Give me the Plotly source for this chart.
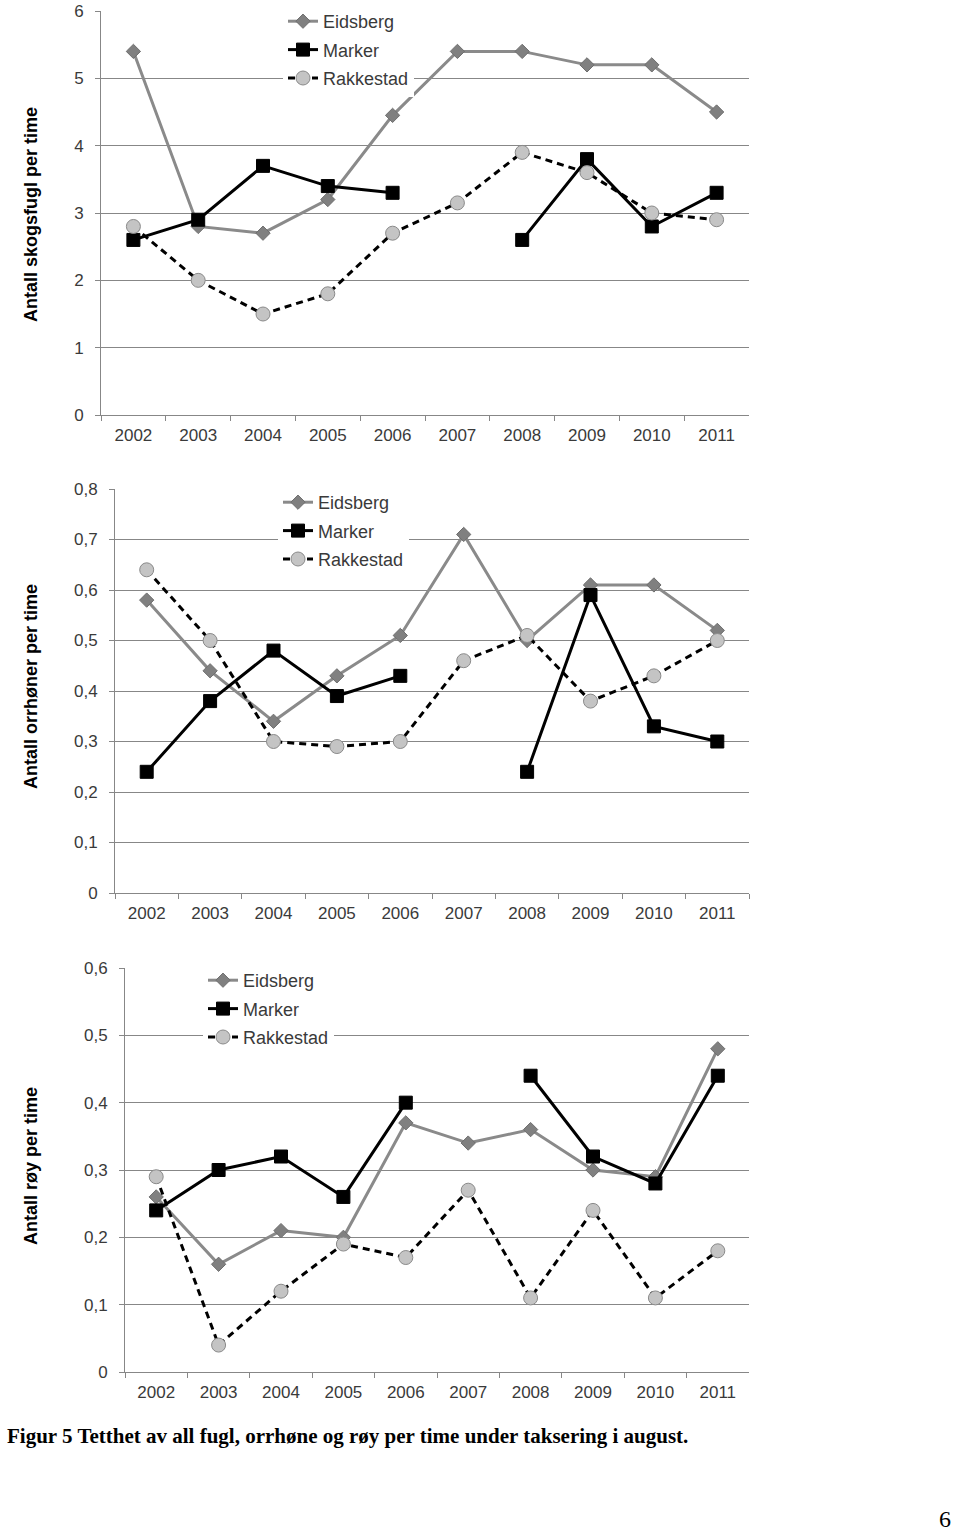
import plotly.graph_objects as go

years = ["2002", "2003", "2004", "2005", "2006", "2007", "2008", "2009", "2010", "2011"]
series_names = ["Eidsberg", "Marker", "Rakkestad"]

# Panel 1: Antall skogsfugl per time
skog_eidsberg = [5.4, 2.8, 2.7, 3.2, 4.45, 5.4, 5.4, 5.2, 5.2, 4.5]
skog_marker = [2.6, 2.9, 3.7, 3.4, 3.3, None, 2.6, 3.8, 2.8, 3.3]
skog_rakkestad = [2.8, 2.0, 1.5, 1.8, 2.7, 3.15, 3.9, 3.6, 3.0, 2.9]

# Panel 2: Antall orrhøner per time
orr_eidsberg = [0.58, 0.44, 0.34, 0.43, 0.51, 0.71, 0.50, 0.61, 0.61, 0.52]
orr_marker = [0.24, 0.38, 0.48, 0.39, 0.43, None, 0.24, 0.59, 0.33, 0.30]
orr_rakkestad = [0.64, 0.50, 0.30, 0.29, 0.30, 0.46, 0.51, 0.38, 0.43, 0.50]

# Panel 3: Antall røy per time
roy_eidsberg = [0.26, 0.16, 0.21, 0.20, 0.37, 0.34, 0.36, 0.30, 0.29, 0.48]
roy_marker = [0.24, 0.30, 0.32, 0.26, 0.40, None, 0.44, 0.32, 0.28, 0.44]
roy_rakkestad = [0.29, 0.04, 0.12, 0.19, 0.17, 0.27, 0.11, 0.24, 0.11, 0.18]

y_titles = ["Antall skogsfugl per time", "Antall orrhøner per time", "Antall røy per time"]
caption = "Figur 5 Tetthet av all fugl, orrhøne og røy per time under taksering i august."

W, H = 960, 1535
GRID = "#878787"
TXT = "#3a3a3a"

panels = [
    dict(data=[skog_eidsberg, skog_marker, skog_rakkestad], left=101, right=749, top=11, bottom=415,
         yrange=[0, 6], dtick=1, legx=283, legy=3, titley=215),
    dict(data=[orr_eidsberg, orr_marker, orr_rakkestad], left=115, right=749, top=489, bottom=893,
         yrange=[0, 0.8], dtick=0.1, legx=278, legy=484, titley=687),
    dict(data=[roy_eidsberg, roy_marker, roy_rakkestad], left=125, right=749, top=968, bottom=1372,
         yrange=[0, 0.6], dtick=0.1, legx=203, legy=962, titley=1166),
]

styles = [
    dict(mode="lines+markers", line=dict(color="#8a8a8a", width=3),
         marker=dict(symbol="diamond", size=11, color="#808080", line=dict(color="#6e6e6e", width=1))),
    dict(mode="lines+markers", line=dict(color="#000000", width=3),
         marker=dict(symbol="square", size=13, color="#000000", line=dict(color="#000000", width=1))),
    dict(mode="lines+markers", line=dict(color="#000000", width=3, dash="7px,5px"),
         marker=dict(symbol="circle", size=14, color="#c4c4c4", line=dict(color="#8a8a8a", width=1))),
]

fig = go.Figure()
layout = dict(width=W, height=H, margin=dict(l=0, r=0, t=0, b=0, autoexpand=False),
              paper_bgcolor="white", plot_bgcolor="white", separators=", ",
              font=dict(family="Liberation Sans, Arial, sans-serif", color=TXT))
annotations = []

for i, p in enumerate(panels):
    n = "" if i == 0 else str(i + 1)
    xa, ya = "x" + n, "y" + n
    leg = "legend" + n
    for j, name in enumerate(series_names):
        fig.add_trace(go.Scatter(x=years, y=p["data"][j], name=name, xaxis=xa, yaxis=ya,
                                 legend=leg, legendgroup=f"{i}{j}", connectgaps=False,
                                 **styles[j]))
    layout["xaxis" + n] = dict(domain=[p["left"] / W, p["right"] / W], anchor=ya,
                               type="category", range=[-0.5, 9.5], tickson="boundaries",
                               ticks="outside", ticklen=5, tickcolor=GRID, showline=True,
                               linecolor=GRID, linewidth=1, showgrid=False, automargin=False,
                               ticklabelstandoff=5,
                               tickfont=dict(size=17, color=TXT))
    layout["yaxis" + n] = dict(domain=[(H - p["bottom"]) / H, (H - p["top"]) / H], anchor=xa,
                               range=p["yrange"], dtick=p["dtick"], ticks="outside", ticklen=5,
                               tickcolor=GRID, showline=True, linecolor=GRID, linewidth=1,
                               showgrid=True, gridcolor=GRID, gridwidth=1, zeroline=False,
                               automargin=False, ticklabelstandoff=8,
                               tickfont=dict(size=17, color=TXT))
    layout[leg] = dict(x=p["legx"] / W, y=(H - p["legy"]) / H, xanchor="left", yanchor="top",
                       bgcolor="white", borderwidth=0, font=dict(size=18, color=TXT),
                       tracegroupgap=2, itemwidth=30)
    annotations.append(dict(text=f"<b>{y_titles[i]}</b>", x=31 / W, y=(H - p["titley"]) / H,
                            xref="paper", yref="paper", xanchor="center", yanchor="middle",
                            textangle=-90, showarrow=False,
                            font=dict(size=18, color="#000000",
                                      family="Liberation Sans, Arial, sans-serif")))

annotations.append(dict(text=f"<b>{caption}</b>", x=5 / W, y=(H - 1436) / H, xref="paper",
                        yref="paper", xanchor="left", yanchor="middle", showarrow=False,
                        font=dict(size=21, color="#000000",
                                  family="Liberation Serif, Times New Roman, serif")))
annotations.append(dict(text="6", x=953 / W, y=(H - 1519) / H, xref="paper", yref="paper",
                        xanchor="right", yanchor="middle", showarrow=False,
                        font=dict(size=24, color="#000000",
                                  family="Liberation Serif, Times New Roman, serif")))
layout["annotations"] = annotations
layout["showlegend"] = True
fig.update_layout(**layout)

fig.write_html("out.html", config={"displayModeBar": False},
               post_script="document.body.style.margin='0px';")
